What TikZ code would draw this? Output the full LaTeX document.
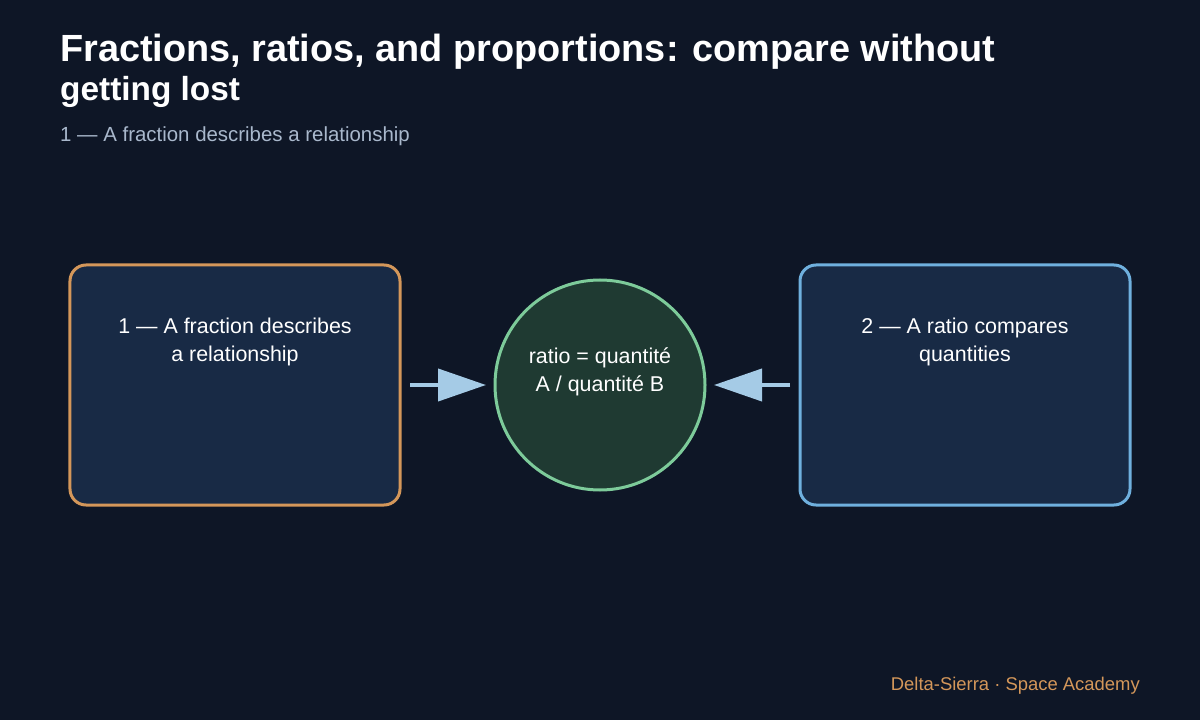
\documentclass[tikz,border=0pt]{standalone}
\usepackage{fontspec}
\setmainfont{Liberation Sans}
\usetikzlibrary{arrows.meta}
\definecolor{bg}{HTML}{0E1626}
\definecolor{boxf}{HTML}{182A45}
\definecolor{orng}{HTML}{D4975A}
\definecolor{blu}{HTML}{6FB0DE}
\definecolor{grnf}{HTML}{1F3A32}
\definecolor{grn}{HTML}{7DCB9A}
\definecolor{arr}{HTML}{A5CBE6}
\definecolor{sub}{HTML}{A9B8CC}
\begin{document}
\begin{tikzpicture}[x=1bp,y=-1bp,
 box/.style={draw,line width=3bp,fill=boxf,rounded corners=16bp,minimum width=330bp,minimum height=240bp},
 txt/.style={text=white,font=\fontsize{21.5}{28.5}\selectfont,align=center,inner sep=0},
 conn/.style={draw=arr,line width=4bp,-{Triangle[length=48bp,width=32bp]}}]
\fill[bg] (0,0) rectangle (1200,720);
\useasboundingbox (0,0) rectangle (1200,720);
\node[anchor=base west,inner sep=0,text=white,font=\bfseries\fontsize{38}{44}\selectfont] (t1) at (60,62) {Fractions, ratios, and proportions: compare without};
\node[anchor=base west,inner sep=0,text=white,font=\bfseries\fontsize{33.5}{40}\selectfont] (t2) at (60,101) {getting lost};
\node[anchor=base west,inner sep=0,text=sub,font=\fontsize{20.5}{24}\selectfont] (st) at (60,142) {1 — A fraction describes a relationship};
\node[box,draw=orng] (L) at (235,385) {};
\node[box,draw=blu] (R) at (965,385) {};
\node[circle,draw=grn,fill=grnf,line width=3bp,minimum size=210bp] (C) at (600,385) {};
\node[txt] (Lt) at (235,342) {1 — A fraction describes\\a relationship};
\node[txt] (Rt) at (965,342) {2 — A ratio compares\\quantities};
\node[txt] (Ct) at (600,372) {ratio = quantité\\A / quantité B};
\coordinate (la) at (410,385); \coordinate (lb) at (486,385);
\coordinate (ra) at (790,385); \coordinate (rb) at (714,385);
\draw[conn] (la) -- (lb);
\draw[conn] (ra) -- (rb);
\node[anchor=base east,inner sep=0,text=orng,font=\fontsize{18.5}{22}\selectfont] (ft) at (1140,690) {Delta-Sierra · Space Academy};
\end{tikzpicture}
\end{document}
